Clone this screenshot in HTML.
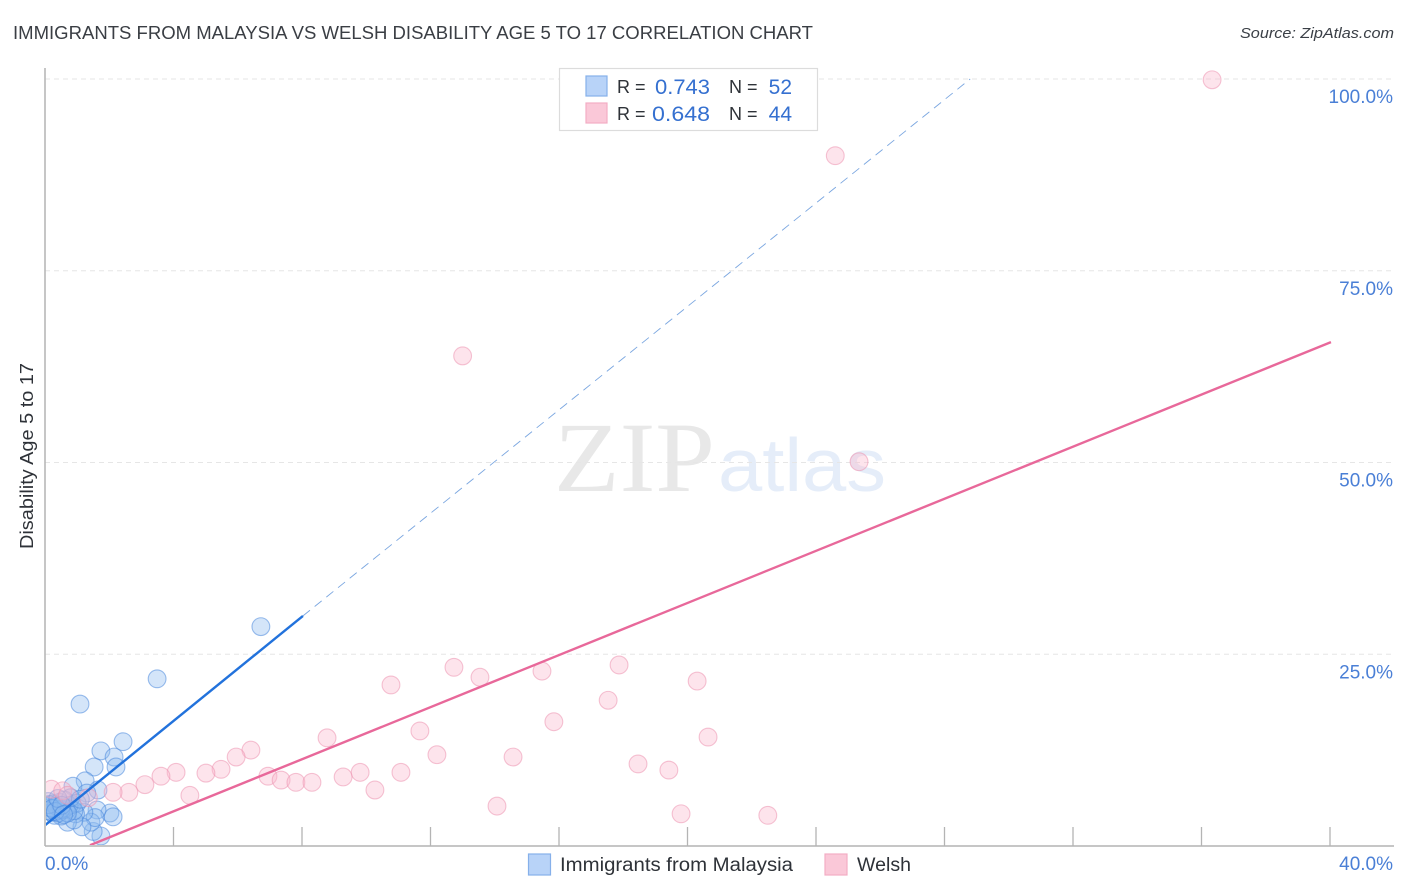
<!DOCTYPE html>
<html lang="en">
<head>
<meta charset="utf-8">
<title>Immigrants from Malaysia vs Welsh Disability Age 5 to 17 Correlation Chart</title>
<style>
html,body{margin:0;padding:0;background:#fff;}
svg{display:block;font-family:"Liberation Sans",sans-serif;}
</style>
</head>
<body>
<svg id="chart" width="1406" height="892" viewBox="0 0 1406 892" xmlns="http://www.w3.org/2000/svg">
  <defs>
    <clipPath id="plot-clip"><rect x="46" y="60" width="1350" height="785"/></clipPath>
  </defs>
  <rect x="0" y="0" width="1406" height="892" fill="#fff"/>
  <text x="13" y="39" font-size="18.5" fill="#3a3e44" textLength="800" lengthAdjust="spacingAndGlyphs">IMMIGRANTS FROM MALAYSIA VS WELSH DISABILITY AGE 5 TO 17 CORRELATION CHART</text>
  <text x="1394" y="38" font-size="15" font-style="italic" fill="#3a3f46" text-anchor="end" textLength="154" lengthAdjust="spacingAndGlyphs">Source: ZipAtlas.com</text>

  <g>
    <text x="554" y="491" font-family="'Liberation Serif',serif" font-size="100" fill="#e8e8e8" textLength="161" lengthAdjust="spacingAndGlyphs">ZIP</text>
    <text x="718" y="491" font-size="75" fill="#e5edf9" textLength="168" lengthAdjust="spacingAndGlyphs">atlas</text>
  </g>

  <g id="grid"></g>
  <g id="xticks"></g>
  <g id="marks" clip-path="url(#plot-clip)"></g>

  <line x1="45" y1="68" x2="45" y2="846" stroke="#b4b4b4" stroke-width="1.5"/>
  <line x1="45" y1="846" x2="1394" y2="846" stroke="#b4b4b4" stroke-width="1.5"/>
  <g id="ylabels"></g>
  <g id="xlabels"></g>

  <text transform="translate(33,456) rotate(-90)" font-size="18" fill="#2e3238" text-anchor="middle" textLength="186" lengthAdjust="spacingAndGlyphs">Disability Age 5 to 17</text>

  <g>
    <rect x="559.5" y="68.5" width="258" height="62" fill="#fff" stroke="#dcdcdc" stroke-width="1.2"/>
    <rect x="586" y="76" width="21" height="20" fill="#b8d3f8" stroke="#86b0ea" stroke-width="1.2"/>
    <rect x="586" y="103" width="21" height="20" fill="#fac8d8" stroke="#f2adc4" stroke-width="1.2"/>
    <text x="617" y="93" font-size="18" fill="#2e3238">R =</text>
    <text x="710" y="94" font-size="21" fill="#3570d0" text-anchor="end" textLength="55" lengthAdjust="spacingAndGlyphs">0.743</text>
    <text x="729" y="93" font-size="18" fill="#2e3238">N =</text>
    <text x="792" y="94" font-size="21" fill="#3570d0" text-anchor="end">52</text>
    <text x="617" y="120" font-size="18" fill="#2e3238">R =</text>
    <text x="710" y="121" font-size="21" fill="#3570d0" text-anchor="end" textLength="58" lengthAdjust="spacingAndGlyphs">0.648</text>
    <text x="729" y="120" font-size="18" fill="#2e3238">N =</text>
    <text x="792" y="121" font-size="21" fill="#3570d0" text-anchor="end">44</text>
  </g>

  <g>
    <rect x="528.5" y="854" width="22" height="21" fill="#b8d3f8" stroke="#86b0ea" stroke-width="1.2"/>
    <text x="560" y="871" font-size="19" fill="#2e3238" textLength="233" lengthAdjust="spacingAndGlyphs">Immigrants from Malaysia</text>
    <rect x="825" y="854" width="22" height="21" fill="#fac8d8" stroke="#f2adc4" stroke-width="1.2"/>
    <text x="857" y="871" font-size="19" fill="#2e3238" textLength="54" lengthAdjust="spacingAndGlyphs">Welsh</text>
  </g>
</svg>
<script>
var xTickValues = [0, 4, 8, 12, 16, 20, 24, 28, 32, 36, 40];
var yGridValues = [25, 50, 75, 100];
var yTickLabels = ["25.0%", "50.0%", "75.0%", "100.0%"];
var xEndValues = [0, 40];
var xEndLabels = ["0.0%", "40.0%"];

var malaysiaX = [6.72, 3.49, 1.09, 2.43, 1.74, 2.15, 2.21, 1.53, 1.25, 0.87, 1.65, 1.3, 2.02, 2.12, 1.62, 1.74, 1.5, 1.43, 1.56, 1.21, 1.15, 0.95, 0.7, 0.9, 0.5, 0.7, 0.85, 1.0, 0.3, 0.42, 0.55, 0.65, 0.75, 0.9, 0.1, 0.15, 0.2, 0.25, 0.35, 0.45, 0.5, 0.6, 0.7, 0.8, 0.05, 0.12, 0.22, 0.32, 0.4, 0.52, 0.58, 1.1];
var malaysiaY = [28.6, 21.8, 18.5, 13.6, 12.4, 11.6, 10.3, 10.3, 8.5, 7.8, 7.3, 6.9, 4.3, 3.8, 4.7, 1.3, 1.9, 3.1, 3.7, 4.4, 2.5, 4.2, 3.1, 3.4, 3.9, 4.8, 5.4, 5.6, 4.0, 4.3, 4.7, 5.0, 5.3, 4.6, 5.8, 5.0, 4.4, 5.5, 5.2, 5.7, 4.8, 6.0, 4.3, 6.3, 4.6, 5.4, 4.9, 4.5, 6.2, 5.3, 4.1, 6.1];

var welshX = [36.33, 24.6, 13.0, 25.34, 10.77, 12.73, 13.54, 15.47, 17.87, 20.3, 17.53, 15.84, 11.67, 8.78, 20.64, 6.41, 5.95, 12.2, 14.57, 18.46, 19.42, 5.48, 4.08, 5.01, 3.61, 11.08, 9.81, 9.28, 6.94, 7.35, 7.81, 8.31, 10.27, 3.11, 2.61, 2.12, 4.51, 14.07, 19.8, 22.5, 0.2, 0.55, 0.7, 1.35];
var welshY = [99.9, 90.0, 63.9, 50.1, 21.0, 23.3, 22.0, 22.8, 23.6, 21.5, 19.0, 16.2, 15.0, 14.1, 14.2, 12.5, 11.6, 11.9, 11.6, 10.7, 9.9, 10.0, 9.6, 9.5, 9.1, 9.6, 9.6, 9.0, 9.1, 8.6, 8.3, 8.3, 7.3, 8.0, 7.0, 7.0, 6.6, 5.2, 4.2, 4.0, 7.4, 7.2, 6.6, 6.3];

var malaysiaTrendX = [0, 8.03, 28.8];
var malaysiaTrendY = [2.7, 30.0, 100];
var welshTrendX = [1.4, 40.03];
var welshTrendY = [0.1, 65.7];

function xScale(v) { return 45 + v * 32.125; }
function yScale(v) { return 846 - v * 7.67; }

var NS = "http://www.w3.org/2000/svg";
function make(tag, parent, attrs) {
  var el = document.createElementNS(NS, tag);
  for (var k in attrs) { el.setAttribute(k, attrs[k]); }
  parent.appendChild(el);
  return el;
}

var grid = document.getElementById("grid");
var xticks = document.getElementById("xticks");
var marks = document.getElementById("marks");
var ylabels = document.getElementById("ylabels");
var xlabels = document.getElementById("xlabels");

yGridValues.forEach(function (v, i) {
  var line = make("line", grid, { x1: 45, x2: 1394, y1: yScale(v), y2: yScale(v), stroke: "#e6e6e6", "stroke-width": 1, "stroke-dasharray": "5 4" });
  
  
  var label = make("text", ylabels, { x: 1393, y: yScale(v) + 24, "font-size": 19, fill: "#4a7fd6", "text-anchor": "end" });
  label.textContent = yTickLabels[i];
  
  
});

xTickValues.forEach(function (v) {
  if (v === 0) { return; }
  var tick = make("line", xticks, { x1: xScale(v), x2: xScale(v), y1: 827, y2: 846, stroke: "#b4b4b4", "stroke-width": 1.3 });
  
  
});

xEndValues.forEach(function (v, i) {
  var label = make("text", xlabels, { x: i === 0 ? xScale(v) : 1393, y: 870, "font-size": 19, fill: "#4a7fd6", "text-anchor": i === 0 ? "start" : "end" });
  label.textContent = xEndLabels[i];
  
  
});

malaysiaX.forEach(function (v, i) {
  var dot = make("circle", marks, { cx: xScale(v), cy: yScale(malaysiaY[i]), r: 8.9, fill: "#8fbaf0", "fill-opacity": 0.38, stroke: "#4a88dc", "stroke-opacity": 0.55, "stroke-width": 1.1 });
  
  
});

welshX.forEach(function (v, i) {
  var dot = make("circle", marks, { cx: xScale(v), cy: yScale(welshY[i]), r: 8.9, fill: "#f9b9cd", "fill-opacity": 0.38, stroke: "#ec94b0", "stroke-opacity": 0.55, "stroke-width": 1.1 });
  
  
});

var welshTrend = make("line", marks, { x1: xScale(welshTrendX[0]), y1: yScale(welshTrendY[0]), x2: xScale(welshTrendX[1]), y2: yScale(welshTrendY[1]), stroke: "#e8689a", "stroke-width": 2.4 });



var malaysiaSolid = make("line", marks, { x1: xScale(malaysiaTrendX[0]), y1: yScale(malaysiaTrendY[0]), x2: xScale(malaysiaTrendX[1]), y2: yScale(malaysiaTrendY[1]), stroke: "#2272dc", "stroke-width": 2.4 });



var malaysiaDash = make("line", marks, { x1: xScale(malaysiaTrendX[1]), y1: yScale(malaysiaTrendY[1]), x2: xScale(malaysiaTrendX[2]), y2: yScale(malaysiaTrendY[2]), stroke: "#7aa6e0", "stroke-width": 0.9, "stroke-dasharray": "9 6" });


</script>
</body>
</html>
